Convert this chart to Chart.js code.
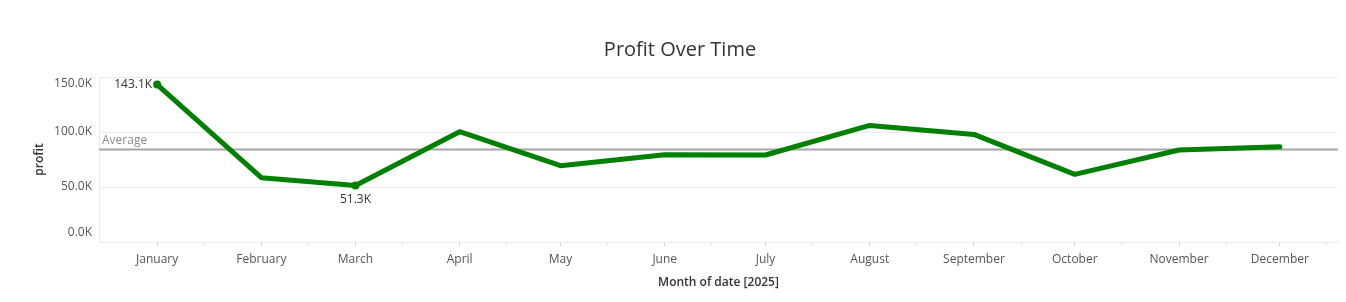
<!DOCTYPE html>
<html>
<head>
<meta charset="utf-8">
<script src="https://cdn.jsdelivr.net/npm/chart.js@4.4.1/dist/chart.umd.min.js"></script>
<style>
    html, body { margin: 0; padding: 0; background: #fff; }
    #wrap { width: 1346px; height: 302px; }
</style>
</head>
<body>
<div id="wrap"><canvas id="profitChart"></canvas></div>
<script>
// data
const YEAR = 2025;
const MONTHS = [
    'January', 'February', 'March', 'April', 'May', 'June',
    'July', 'August', 'September', 'October', 'November', 'December',
];
const PROFIT = [143100, 58500, 51300, 100300, 69400, 79400, 79100, 106000, 97800, 61500, 83600, 86600];
const Y_TICKS = [0, 50000, 100000, 150000];
const TITLE = 'Profit Over Time';

const FONT = "'Open Sans', sans-serif";
const LINE_GREEN = '#008000';
const GRID = '#ebebeb';

// days since Jan 1 -> continuous time axis like the original
const dayOf = (m, d) => (Date.UTC(YEAR, m, d) - Date.UTC(YEAR, 0, 1)) / 86400000;
const MONTH_DAYS = MONTHS.map((_, i) => dayOf(i, 1));
const MID_DAYS = MONTHS.map((_, i) => dayOf(i, 15));
const X_PAD = 17.3;

const fmtK = v => (v / 1000).toFixed(1) + 'K';
const AVG = PROFIT.reduce((a, b) => a + b, 0) / PROFIT.length;
const iMax = PROFIT.indexOf(Math.max(...PROFIT));
const iMin = PROFIT.indexOf(Math.min(...PROFIT));

const overlays = {
    id: 'overlays',
    beforeDatasetsDraw(chart) {
        const { ctx, chartArea, scales: { y } } = chart;
        const ay = Math.round(y.getPixelForValue(AVG)) + 0.5;
        ctx.save();
        ctx.strokeStyle = '#a6a6a6';
        ctx.lineWidth = 2;
        ctx.beginPath();
        ctx.moveTo(chartArea.left, ay);
        ctx.lineTo(chartArea.right, ay);
        ctx.stroke();
        ctx.fillStyle = '#8c8c8c';
        ctx.font = `12px ${FONT}`;
        ctx.textAlign = 'left';
        ctx.textBaseline = 'middle';
        ctx.fillText('Average', chartArea.left + 3, ay - 9);
        ctx.restore();
    },
    afterDatasetsDraw(chart) {
        const { ctx } = chart;
        const pts = chart.getDatasetMeta(0).data;
        ctx.save();
        ctx.fillStyle = '#333';
        ctx.font = `12px ${FONT}`;
        ctx.textBaseline = 'middle';
        ctx.textAlign = 'right';
        ctx.fillText(fmtK(PROFIT[iMax]), pts[iMax].x - 5, pts[iMax].y);
        ctx.textAlign = 'center';
        ctx.fillText(fmtK(PROFIT[iMin]), pts[iMin].x, pts[iMin].y + 14);
        ctx.restore();
    },
    afterDraw(chart) {
        const { ctx, scales: { y } } = chart;
        ctx.save();
        // title sits a bit left of the page centre in the original
        ctx.fillStyle = '#333';
        ctx.font = `20px ${FONT}`;
        ctx.textAlign = 'center';
        ctx.textBaseline = 'middle';
        ctx.fillText(TITLE, 680, 50);

        // tableau-style y labels: end labels pulled inside the axis
        ctx.fillStyle = '#555';
        ctx.font = `12px ${FONT}`;
        ctx.textAlign = 'right';
        const lo = Math.min(...Y_TICKS), hi = Math.max(...Y_TICKS);
        Y_TICKS.forEach(v => {
            let py = y.getPixelForValue(v);
            if (v === hi) py += 7;
            if (v === lo) py -= 9;
            ctx.fillText(fmtK(v), 92, py);
        });
        ctx.restore();
    },
};

new Chart(document.getElementById('profitChart'), {
    type: 'line',
    data: {
        datasets: [{
            label: 'profit',
            data: PROFIT.map((v, i) => ({ x: MONTH_DAYS[i], y: v })),
            borderColor: LINE_GREEN,
            backgroundColor: LINE_GREEN,
            borderWidth: 5,
            borderCapStyle: 'round',
            borderJoinStyle: 'round',
            tension: 0,
            pointRadius: ctx => (ctx.dataIndex === iMax || ctx.dataIndex === iMin) ? 4 : 0,
            pointBorderWidth: 0,
        }]
    },
    options: {
        responsive: true,
        maintainAspectRatio: false,
        animation: false,
        layout: { padding: { left: 0, right: 8, top: 77, bottom: 0 } },
        plugins: {
            legend: { display: false },
            tooltip: { enabled: false },
            title: { display: false },
        },
        scales: {
            x: {
                type: 'linear',
                min: MONTH_DAYS[0] - X_PAD,
                max: MONTH_DAYS[11] + X_PAD,
                afterBuildTicks: scale => {
                    scale.ticks = [...MONTH_DAYS, ...MID_DAYS]
                        .sort((a, b) => a - b)
                        .map(v => ({ value: v }));
                },
                afterFit: scale => { scale.height = 60; },
                ticks: {
                    autoSkip: false,
                    maxRotation: 0,
                    padding: 6,
                    color: '#555',
                    font: { family: FONT, size: 12 },
                    callback: v => {
                        const i = MONTH_DAYS.indexOf(v);
                        return i >= 0 ? MONTHS[i] : '';
                    },
                },
                grid: {
                    drawOnChartArea: false,
                    drawTicks: true,
                    tickLength: 4,
                    tickColor: ctx => MONTH_DAYS.includes(ctx.tick && ctx.tick.value) ? '#cfcfcf' : '#e8e8e8',
                },
                border: { color: GRID, width: 1 },
                title: {
                    display: true,
                    text: `Month of date [${YEAR}]`,
                    color: '#333',
                    font: { family: FONT, size: 12, weight: '600' },
                    padding: { top: 4, bottom: 12 },
                },
            },
            y: {
                min: 0,
                max: 150000,
                afterBuildTicks: scale => {
                    scale.ticks = Y_TICKS.map(v => ({ value: v }));
                },
                afterFit: scale => { scale.width = 99; },
                ticks: { display: false },
                grid: { color: GRID, drawTicks: false },
                border: { color: GRID, width: 1 },
                title: {
                    display: true,
                    text: 'profit',
                    color: '#333',
                    font: { family: FONT, size: 12, weight: '600' },
                    padding: { top: 32, bottom: 0 },
                },
            },
        },
    },
    plugins: [overlays],
});
</script>
</body>
</html>
